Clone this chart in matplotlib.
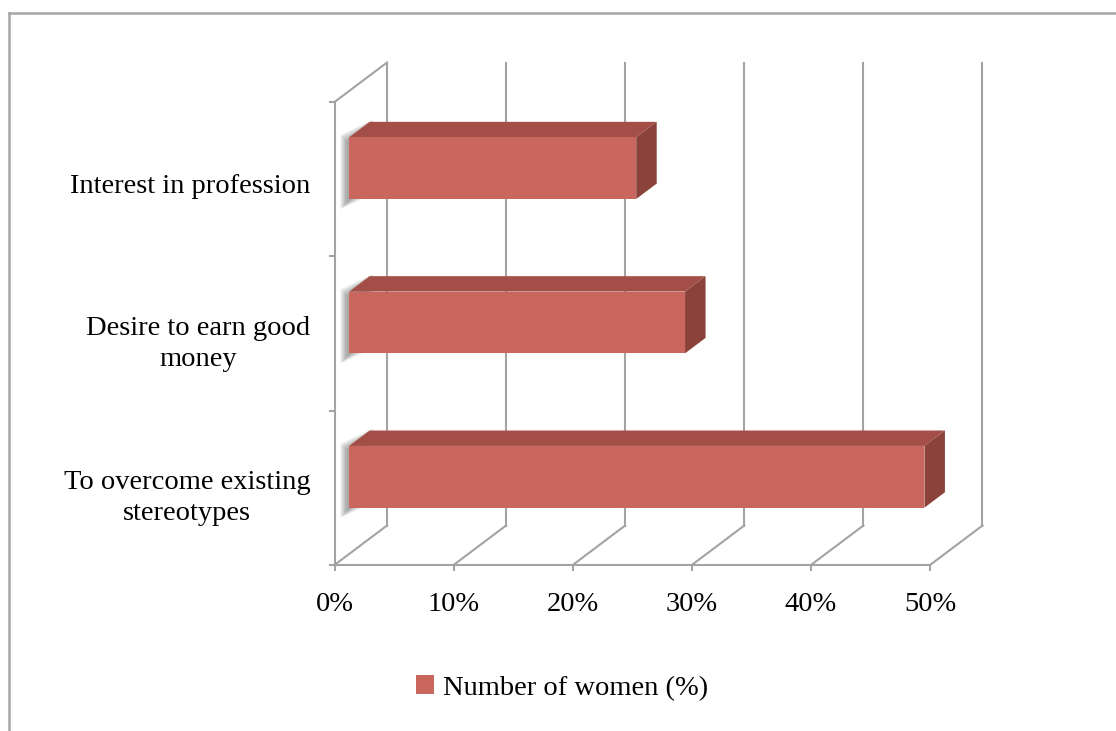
import matplotlib
matplotlib.use("Agg")
import matplotlib.pyplot as plt
from matplotlib.patches import Polygon, Patch
from matplotlib.lines import Line2D

# data
categories = ["To overcome existing\nstereotypes", "Desire to earn good\nmoney", "Interest in profession"]
values = [48.3, 28.2, 24.1]
xticks = [0, 10, 20, 30, 40, 50]
xtick_labels = ["0%", "10%", "20%", "30%", "40%", "50%"]
series_name = "Number of women (%)"

front_col = "#c9665d"
top_col = "#a34f47"
side_col = "#8b423b"
grid_col = "#a3a3a3"

plt.rcParams["font.family"] = ["Liberation Serif", "DejaVu Serif"]
plt.rcParams["font.size"] = 20.5

W, H = 1116, 731
fig = plt.figure(figsize=(W / 100, H / 100), dpi=100)

# front plane of the plot area
ax = fig.add_axes([334.5 / W, 1 - 565 / H, 595.5 / W, 463 / H])
ax.set_xlim(0, 50)
ax.set_ylim(-0.5, len(categories) - 0.5)

# pixel sizes in data units, and depth of the 3d box
px = 50 / 595.5
py = len(categories) / 463
dx = 52.5 * px
dy = 39.5 * py
f0, f1 = 0.28, 0.67  # bar front / back depth fractions
half = 0.2
top = len(categories) - 0.5

for s in ["top", "right"]:
    ax.spines[s].set_visible(False)
for s in ["left", "bottom"]:
    ax.spines[s].set_color(grid_col)
    ax.spines[s].set_linewidth(1.5)

ax.set_xticks(xticks)
ax.set_xticklabels(xtick_labels)
ax.tick_params(axis="x", length=4.5, width=1.5, color=grid_col, pad=15)
ax.set_yticks([i - 0.03 for i in range(len(categories))])
ax.set_yticklabels(categories)
ax.tick_params(axis="y", which="major", length=0, pad=17.5)
ax.set_yticks([i - 0.5 for i in range(len(categories) + 1)], minor=True)
ax.tick_params(axis="y", which="minor", length=4.5, width=1.5, color=grid_col)
for lab in ax.get_yticklabels():
    lab.set_multialignment("center")
    lab.set_linespacing(1.3)

# back wall gridlines and floor diagonals
for x in xticks:
    ax.add_line(Line2D([x + dx, x + dx], [-0.5 + dy, top + dy], color=grid_col, lw=1.5, clip_on=False, zorder=1))
    ax.add_line(Line2D([x, x + dx], [-0.5, -0.5 + dy], color=grid_col, lw=1.5, clip_on=False, zorder=1))
ax.add_line(Line2D([0, dx], [top, top + dy], color=grid_col, lw=1.5, clip_on=False, zorder=1))

# bars
for i, v in enumerate(values):
    yb, yt = i - half, i + half
    # soft shadow of the bar's left end
    for k in range(8):
        e = k * 0.9
        sx, sy = -2.5 * px, -4 * py
        sh = [(f0 * dx - e * px + sx, yb + f0 * dy - e * py + sy),
              (f0 * dx - e * px + sx, yt + f0 * dy + e * py + sy),
              (f1 * dx + e * px + sx, yt + f1 * dy + e * py + sy),
              (f1 * dx + e * px + sx, yb + f1 * dy - e * py + sy)]
        ax.add_patch(Polygon(sh, closed=True, facecolor="#555555", edgecolor="none",
                             alpha=0.08, zorder=2, clip_on=False))
    front = [(f0 * dx, yb + f0 * dy), (v + f0 * dx, yb + f0 * dy),
             (v + f0 * dx, yt + f0 * dy), (f0 * dx, yt + f0 * dy)]
    topf = [(f0 * dx, yt + f0 * dy), (v + f0 * dx, yt + f0 * dy),
            (v + f1 * dx, yt + f1 * dy), (f1 * dx, yt + f1 * dy)]
    side = [(v + f0 * dx, yb + f0 * dy), (v + f0 * dx, yt + f0 * dy),
            (v + f1 * dx, yt + f1 * dy), (v + f1 * dx, yb + f1 * dy)]
    ax.add_patch(Polygon(topf, closed=True, facecolor=top_col, edgecolor="none", zorder=3, clip_on=False))
    ax.add_patch(Polygon(side, closed=True, facecolor=side_col, edgecolor="none", zorder=3, clip_on=False))
    ax.add_patch(Polygon(front, closed=True, facecolor=front_col, edgecolor="none", zorder=4, clip_on=False))

fig.legend(handles=[Patch(facecolor=front_col, edgecolor="none")], labels=[series_name],
           loc="center", bbox_to_anchor=(562 / W, 1 - 688 / H), frameon=False,
           handlelength=0.65, handleheight=0.65, handletextpad=0.3)

# outer chart border (cut off at right and bottom)
fig.add_artist(Line2D([9 / W, 9 / W], [0, 1 - 13 / H], color="#a6a6a6", lw=1.8, transform=fig.transFigure))
fig.add_artist(Line2D([9 / W, 1], [1 - 13 / H, 1 - 13 / H], color="#a6a6a6", lw=1.8, transform=fig.transFigure))

fig.savefig("out.png", dpi=100, facecolor="white")
